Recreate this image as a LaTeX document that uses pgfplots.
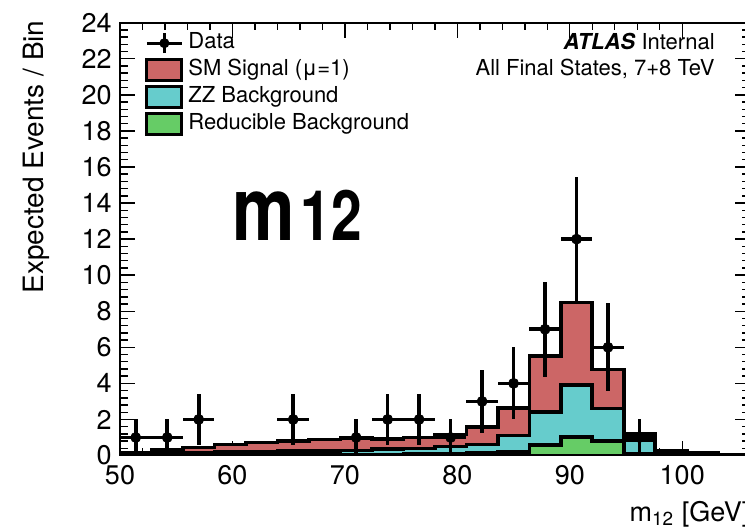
\documentclass[border=0pt]{standalone}
\usepackage{pgfplots}
\pgfplotsset{compat=1.18}
\usepackage{pgfplotstable}
\usepackage{fontspec}
\setmainfont{TeX Gyre Heros}
\definecolor{sigred}{RGB}{204,102,102}
\definecolor{zzcyan}{RGB}{102,204,204}
\definecolor{redgreen}{RGB}{102,204,102}

% bin left edges; last row closes the histogram at 106
\pgfplotstableread{
x     tot   zz    red
50.0  0.15  0.08  0.02
52.8  0.30  0.12  0.02
55.6  0.45  0.16  0.03
58.4  0.62  0.20  0.03
61.2  0.72  0.22  0.04
64.0  0.80  0.24  0.04
66.8  0.88  0.26  0.05
69.6  0.98  0.28  0.05
72.4  0.93  0.36  0.06
75.2  1.00  0.40  0.07
78.0  1.16  0.50  0.10
80.8  1.58  0.60  0.14
83.6  2.63  1.12  0.20
86.4  5.52  2.42  0.58
89.2  8.48  3.91  1.04
92.0  4.78  2.61  0.82
94.8  1.20  0.87  0.12
97.6  0.27  0.20  0.03
100.4 0.14  0.10  0.02
103.2 0.04  0.03  0.01
106.0 0.04  0.03  0.01
}\hist

\pgfplotstableread{
x     y   ex   ey
51.4  1   1.4  1.000
54.2  1   1.4  1.000
57.0  2   1.4  1.414
65.4  2   1.4  1.414
71.0  1   1.4  1.000
73.8  2   1.4  1.414
76.6  2   1.4  1.414
79.4  1   1.4  1.000
82.2  3   1.4  1.732
85.0  4   1.4  2.000
87.8  7   1.4  2.646
90.6  12  1.4  3.464
93.4  6   1.4  2.449
96.2  1   1.4  1.000
}\data

\begin{document}
\begin{tikzpicture}
\begin{axis}[
  scale only axis, width=314.85pt, height=216.4pt,
  xmin=50, xmax=106, ymin=0, ymax=24,
  xtick={50,60,...,100}, minor x tick num=4,
  ytick={0,2,...,24}, minor y tick num=4,
  major tick length=7.5pt, minor tick length=3.75pt,
  tick align=inside,
  every tick/.style={line width=0.7pt, black},
  axis line style={line width=0.9pt},
  /pgf/number format/assume math mode=true,
  ticklabel style={font=\fontsize{13.5}{13.5}\selectfont},
  yticklabel style={inner sep=0pt, xshift=-4pt},
  xticklabel style={inner sep=0pt, yshift=-4.75pt},
  xlabel={m\textsubscript{12} [GeV]},
  ylabel={Expected Events / Bin},
  xlabel style={at={(rel axis cs:1,-0.152)}, anchor=base east, inner sep=0pt, font=\fontsize{13.5}{13.5}\selectfont},
  ylabel style={at={(rel axis cs:-0.1112,1.006)}, anchor=south east, inner sep=0pt, font=\fontsize{14}{14}\selectfont},
  legend style={at={(0,1)}, anchor=north west, xshift=12.5pt, yshift=-4.3pt,
    draw=none, fill=none, inner sep=0pt, row sep=1.6pt, column sep=2.5pt,
    font=\fontsize{11}{13}\selectfont,
    nodes={inner sep=0pt, text height=8pt, text depth=2.75pt}},
  legend cell align=left,
]
\addlegendimage{legend image code/.code={
  \draw[line width=1.5pt] (0pt,0pt) -- (17.5pt,0pt);
  \draw[line width=1.5pt] (8.75pt,-5pt) -- (8.75pt,5pt);
  \fill (8.75pt,0pt) circle (2.3pt);}}
\addlegendentry{Data}
\addlegendimage{legend image code/.code={
  \draw[fill=sigred, draw=black, line width=1.5pt] (0pt,-5.25pt) rectangle (17.5pt,5.25pt);}}
\addlegendentry{SM Signal (μ=1)}
\addlegendimage{legend image code/.code={
  \draw[fill=zzcyan, draw=black, line width=1.5pt] (0pt,-5.25pt) rectangle (17.5pt,5.25pt);}}
\addlegendentry{ZZ Background}
\addlegendimage{legend image code/.code={
  \draw[fill=redgreen, draw=black, line width=1.5pt] (0pt,-5.25pt) rectangle (17.5pt,5.25pt);}}
\addlegendentry{Reducible Background}

\addplot[const plot, fill=sigred, draw=black, line width=1.8pt, forget plot] table[x=x, y=tot]{\hist} \closedcycle;
\addplot[const plot, fill=zzcyan, draw=black, line width=1.8pt, forget plot] table[x=x, y=zz]{\hist} \closedcycle;
\addplot[const plot, fill=redgreen, draw=black, line width=1.8pt, forget plot] table[x=x, y=red]{\hist} \closedcycle;

\addplot[only marks, mark=*, mark size=2.5pt, black, forget plot,
  error bars/.cd, x dir=both, x explicit, y dir=both, y explicit,
  error mark=none, error bar style={line width=1.8pt, black}]
  table[x=x, y=y, x error=ex, y error=ey]{\data};

\node[anchor=base east, inner sep=0pt, font=\fontsize{11}{11}\selectfont] at (rel axis cs:0.9449,0.937) {\textbf{\textit{ATLAS}} Internal};
\node[anchor=base east, inner sep=0pt, font=\fontsize{11}{11}\selectfont] at (rel axis cs:0.9449,0.8769) {All Final States, 7+8 TeV};
\node[anchor=base west, inner sep=0pt, xscale=0.95, yscale=1.2] at (axis cs:59.96,11.95) {\bfseries\fontsize{37}{37}\selectfont m\hspace{3pt}\fontsize{29}{29}\selectfont 12};

\coordinate (ll) at (rel axis cs:0,0);
\coordinate (ur) at (rel axis cs:1,1);
\end{axis}
\pgfresetboundingbox
\path[use as bounding box] ([shift={(-60pt,-37.75pt)}]ll) rectangle ([shift={(-2.35pt,11.35pt)}]ur);
\end{tikzpicture}
\end{document}
